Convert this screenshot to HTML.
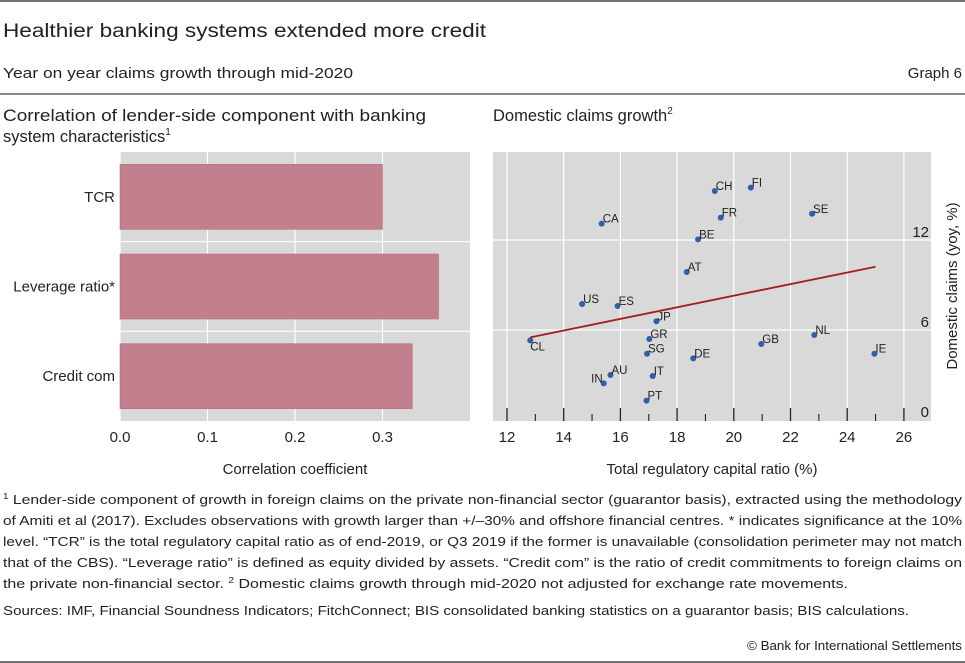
<!DOCTYPE html>
<html><head><meta charset="utf-8"><style>
html,body{margin:0;padding:0;background:#fff;}
svg{display:block;font-family:"Liberation Sans",sans-serif;}
</style></head><body>
<svg id="root" width="965" height="663" viewBox="0 0 965 663">
<line x1="0" y1="1" x2="965" y2="1" stroke="#444" stroke-width="1.5"/>
<text x="3" y="37" font-size="19" fill="#222" textLength="483" lengthAdjust="spacingAndGlyphs">Healthier banking systems extended more credit</text>
<text x="3" y="78" font-size="15" fill="#222" textLength="350" lengthAdjust="spacingAndGlyphs">Year on year claims growth through mid-2020</text>
<text x="962" y="78" font-size="15" fill="#222" text-anchor="end">Graph 6</text>
<line x1="0" y1="94" x2="965" y2="94" stroke="#444" stroke-width="1.2"/>
<text x="3" y="121" font-size="16.5" fill="#222" textLength="423" lengthAdjust="spacingAndGlyphs">Correlation of lender-side component with banking</text>
<text x="3" y="142" font-size="16.5" fill="#222">system characteristics<tspan font-size="10" dy="-7">1</tspan></text>
<text x="493" y="121" font-size="16.5" fill="#222">Domestic claims growth<tspan font-size="10" dy="-7">2</tspan></text>
<g id="left"></g>
<g id="right"></g>
<g font-size="12.6" fill="#222">
<text x="3" y="504" textLength="959" lengthAdjust="spacingAndGlyphs"><tspan font-size="8" dy="-5">1</tspan><tspan dy="5">   Lender-side component of growth in foreign claims on the private non-financial sector (guarantor basis), extracted using the methodology</tspan></text>
<text x="3" y="525" textLength="959" lengthAdjust="spacingAndGlyphs">of Amiti et al (2017). Excludes observations with growth larger than +/–30% and offshore financial centres. * indicates significance at the 10%</text>
<text x="3" y="546" textLength="959" lengthAdjust="spacingAndGlyphs">level. “TCR” is the total regulatory capital ratio as of end-2019, or Q3 2019 if the former is unavailable (consolidation perimeter may not match</text>
<text x="3" y="567" textLength="959" lengthAdjust="spacingAndGlyphs">that of the CBS). “Leverage ratio” is defined as equity divided by assets. “Credit com” is the ratio of credit commitments to foreign claims on</text>
<text x="3" y="588" textLength="845" lengthAdjust="spacingAndGlyphs">the private non-financial sector.   <tspan font-size="8" dy="-5">2</tspan><tspan dy="5">  Domestic claims growth through mid-2020 not adjusted for exchange rate movements.</tspan></text>
<text x="3" y="615" textLength="906" lengthAdjust="spacingAndGlyphs">Sources: IMF, Financial Soundness Indicators; FitchConnect; BIS consolidated banking statistics on a guarantor basis; BIS calculations.</text>
<text x="962" y="650" text-anchor="end" textLength="215" lengthAdjust="spacingAndGlyphs">© Bank for International Settlements</text>
</g>
<line x1="0" y1="662" x2="965" y2="662" stroke="#444" stroke-width="1.5"/>
</svg>
<script>
const barCategories = ["TCR", "Leverage ratio*", "Credit com"];
const barValues = [0.300, 0.364, 0.334];
const barTicks = [0.0, 0.1, 0.2, 0.3];

const countries = ["CH","FI","SE","CA","FR","BE","AT","US","ES","JP","CL","GR","NL","GB","IE","SG","DE","AU","IT","IN","PT"];
const capitalRatio = [19.33,20.6,22.76,15.34,19.54,18.74,18.34,14.65,15.9,17.27,12.82,17.02,22.84,20.97,24.96,16.94,18.57,15.65,17.14,15.41,16.92];
const claimsGrowth = [15.27,15.49,13.75,13.09,13.49,12.04,9.87,7.73,7.6,6.58,5.31,5.4,5.67,5.07,4.42,4.42,4.11,3.0,2.93,2.44,1.29];
const fitX = [12.82, 25.0];
const fitY = [5.51, 10.22];
const xTicks = [12,14,16,18,20,22,24,26];
const yTicks = [0,6,12];

const NS = "http://www.w3.org/2000/svg";
function mk(tag, attrs, parent, txt) {
  const e = document.createElementNS(NS, tag);
  for (const k in attrs) e.setAttribute(k, attrs[k]);
  if (txt !== undefined) e.textContent = txt;
  parent.appendChild(e);
  return e;
}

// Left bar chart
const L = document.getElementById("left");
const lx0 = 120, lx1 = 470, ly0 = 152, ly1 = 421;
const bx = v => lx0 + v * 875;
let bg = mk("rect", {x: lx0, y: ly0, width: lx1 - lx0, height: ly1 - ly0, fill: "#d9d9d9"}, L);


barTicks.forEach(t => {
  const g = mk("line", {x1: bx(t), x2: bx(t), y1: ly0, y2: ly1, stroke: "#fff", "stroke-width": 1.2}, L);
  
  
  const tl = mk("text", {x: bx(t), y: 442, "font-size": 15, "text-anchor": "middle", fill: "#222"}, L, t.toFixed(1));
  
  
});
const band = (ly1 - ly0) / barCategories.length;
for (let i = 1; i < barCategories.length; i++) {
  const s = mk("line", {x1: lx0, x2: lx1, y1: ly0 + band * i, y2: ly0 + band * i, stroke: "#fff", "stroke-width": 1.2}, L);
  
  
}
barCategories.forEach((c, i) => {
  const yc = ly0 + band * (i + 0.5);
  const r = mk("rect", {x: lx0, y: yc - 32.5, width: bx(barValues[i]) - lx0, height: 65, fill: "#c27f8e", stroke: "#b86d7e", "stroke-width": 0.6}, L);
  
  
  const t = mk("text", {x: 115, y: yc + 5, "font-size": 15, "text-anchor": "end", fill: "#222"}, L, c);
  
  
});
const lt = mk("text", {x: bx(0.2), y: 474, "font-size": 15, "text-anchor": "middle", fill: "#222"}, L, "Correlation coefficient");



// Right scatter chart
const R = document.getElementById("right");
const rx0 = 493, rx1 = 931, ry0 = 152, ry1 = 421;
const sx = v => 507 + (v - 12) * 28.35;
const sy = v => 420 - v * 15;
let bg2 = mk("rect", {x: rx0, y: ry0, width: rx1 - rx0, height: ry1 - ry0, fill: "#d9d9d9"}, R);


xTicks.forEach(t => {
  const g = mk("line", {x1: sx(t), x2: sx(t), y1: ry0, y2: ry1, stroke: "#fff", "stroke-width": 1.2}, R);
  
  
  const tk = mk("line", {x1: sx(t), x2: sx(t), y1: 408, y2: 421, stroke: "#222", "stroke-width": 1.3}, R);
  
  
  if (t < 26) {
    const mt = mk("line", {x1: sx(t + 1), x2: sx(t + 1), y1: 414, y2: 421, stroke: "#222", "stroke-width": 1.1}, R);
    
    
  }
  const tl = mk("text", {x: sx(t), y: 442, "font-size": 15, "text-anchor": "middle", fill: "#222"}, R, String(t));
  
  
});
yTicks.forEach(t => {
  if (t > 0) {
    const g = mk("line", {x1: rx0, x2: rx1, y1: sy(t), y2: sy(t), stroke: "#fff", "stroke-width": 1.2}, R);
    
    
  }
  const tl = mk("text", {x: 929, y: sy(t) - 3, "font-size": 15, "text-anchor": "end", fill: "#222"}, R, String(t));
  
  
});
const fl = mk("line", {x1: sx(fitX[0]), y1: sy(fitY[0]), x2: sx(fitX[1]), y2: sy(fitY[1]), stroke: "#a51d1d", "stroke-width": 1.8}, R);


countries.forEach((c, i) => {
  const px = sx(capitalRatio[i]), py = sy(claimsGrowth[i]);
  const d = mk("circle", {cx: px, cy: py, r: 3, fill: "#2f5fa8"}, R);
  
  
  let tx = px + 1, ty = py - 1, anchor = "start";
  if (c === "CL") { tx = px; ty = py + 10; }
  if (c === "IN") { tx = px - 1; ty = py - 1; anchor = "end"; }
  const lab = mk("text", {x: tx, y: ty, "font-size": 11.5, fill: "#222", "text-anchor": anchor}, R, c);
  
  
});
const xt = mk("text", {x: 712, y: 474, "font-size": 15, "text-anchor": "middle", fill: "#222"}, R, "Total regulatory capital ratio (%)");


const yt = mk("text", {x: 0, y: 0, "font-size": 15, "text-anchor": "middle", fill: "#222", transform: "translate(957,286) rotate(-90)"}, R, "Domestic claims (yoy, %)");


</script>
</body></html>
